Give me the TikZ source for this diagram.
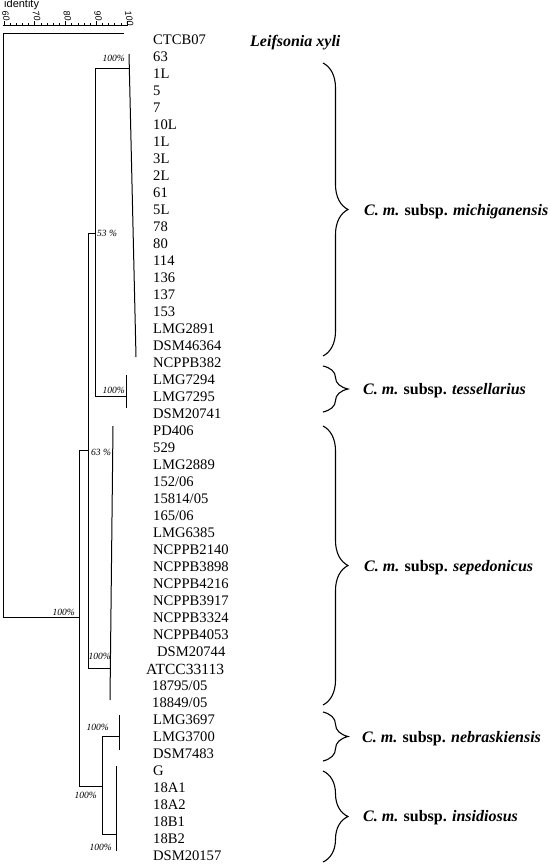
\documentclass[tikz,border=0pt]{standalone}
\usepackage{fontspec}
\setmainfont{Liberation Serif}
\newfontfamily\labsans{Liberation Sans}
\usetikzlibrary{decorations.pathreplacing}
\begin{document}
\begin{tikzpicture}[x=1pt,y=-1pt,
  leaf/.style={anchor=base west,inner sep=0pt,font=\fontsize{14.6}{14.6}\selectfont},
  grp/.style={anchor=base west,inner sep=0pt,font=\fontsize{16}{16}\selectfont\bfseries},
  pct/.style={inner sep=0pt,font=\fontsize{9.5}{9.5}\selectfont\itshape},
  tree/.style={line width=1pt},
  br/.style={decorate,decoration={brace,amplitude=25pt},line width=1.1pt},
  scl/.style={inner sep=0pt,font=\labsans\fontsize{9}{9}\selectfont\itshape}]
\useasboundingbox (0,0) rectangle (558,864);
% scale
\node[inner sep=0pt,anchor=north west,font=\labsans\fontsize{11}{11}\selectfont] (idt) at (4,-1) {identity};
\coordinate (s0) at (3,25);
\coordinate (s1) at (128,25);
\draw[line width=0.7pt] (s0) -- (s1);
\foreach \v in {60,62,...,100}{
  \draw[line width=0.6pt] ({4+(\v-60)*3.075},25) -- ++(0,-2);
}
\foreach \v in {60,70,80,90,100}{
  \draw[line width=0.7pt] ({4+(\v-60)*3.075},25) -- ++(0,-3.5);
  \node[scl,rotate=-80,anchor=west] (sc\v) at ({5+(\v-60)*3.075},10.5) {\v};
}
% leaves
\foreach \t [count=\i from 0] in {CTCB07,63,1L,5,7,10L,1L,3L,2L,61,5L,78,80,114,136,137,153,LMG2891,DSM46364,NCPPB382,LMG7294,LMG7295,DSM20741,PD406,529,LMG2889,152/06,15814/05,165/06,LMG6385,NCPPB2140,NCPPB3898,NCPPB4216,NCPPB3917,NCPPB3324,NCPPB4053}{
  \node[leaf] (l\i) at (153,{44.8+17*\i}) {\t};
}
\node[leaf] (l36) at (157,{44.8+17*36}) {DSM20744};
\node[leaf,font=\fontsize{15.5}{15.5}\selectfont] (l37) at (146,{45+17*37}) {ATCC33113};
\node[leaf] (l38) at (152,{44.8+17*38}) {18795/05};
\node[leaf] (l39) at (152,{44.8+17*39}) {18849/05};
\foreach \t [count=\i from 40] in {LMG3697,LMG3700,DSM7483,G,18A1,18A2,18B1,18B2,DSM20157}{
  \node[leaf] (l\i) at (153,{44.8+17*\i}) {\t};
}
% tree coordinates
\coordinate (rt) at (3,34);
\coordinate (rb) at (3,617);
\coordinate (ct) at (124,34);
\coordinate (a) at (79,617);
\coordinate (at) at (79,450);
\coordinate (ab) at (79,786);
\coordinate (b) at (88,450);
\coordinate (bt) at (88,233);
\coordinate (bb) at (88,668);
\coordinate (c) at (95,233);
\coordinate (ct2) at (95,69);
\coordinate (cb) at (95,396);
\coordinate (m) at (129.3,69);
\coordinate (mt) at (129,54);
\coordinate (mb) at (136,357);
\coordinate (tm) at (126,396);
\coordinate (tt) at (126,375);
\coordinate (tb) at (126,408);
\coordinate (sm) at (110.4,668);
\coordinate (st) at (113,426);
\coordinate (sb) at (110,700);
\coordinate (d) at (102,786);
\coordinate (dt) at (102,736);
\coordinate (db) at (102,834);
\coordinate (nm) at (119,736);
\coordinate (nt) at (119,715);
\coordinate (nb) at (119,750);
\coordinate (im) at (116,834);
\coordinate (it) at (116,766);
\coordinate (ib) at (116,851);
\draw[tree] (ct) -- (rt) -- (rb) -- (a);
\draw[tree] (b) -- (at) -- (ab) -- (d);
\draw[tree] (c) -- (bt) -- (bb) -- (sm);
\draw[tree] (m) -- (ct2) -- (cb) -- (tm);
\draw[tree] (mt) -- (mb);
\draw[tree] (tt) -- (tb);
\draw[tree] (st) -- (sb);
\draw[tree] (nm) -- (dt) -- (db) -- (im);
\draw[tree] (nt) -- (nb);
\draw[tree] (it) -- (ib);
% bootstrap values
\node[pct,anchor=east] (p1) at (125,58) {100\%};
\node[pct,anchor=west] (p2) at (97,233) {53 \%};
\node[pct,anchor=east] (p3) at (125,390) {100\%};
\node[pct,anchor=west] (p4) at (91,452) {63 \%};
\node[pct,anchor=east] (p5) at (75,612) {100\%};
\node[pct,anchor=east] (p6) at (111,656) {100\%};
\node[pct,anchor=east] (p7) at (109,727) {100\%};
\node[pct,anchor=east] (p8) at (97,795) {100\%};
\node[pct,anchor=east] (p9) at (112,847) {100\%};
% groups
\node[grp] (lx) at (250,47) {\itshape Leifsonia xyli};
\coordinate (b1t) at (323,63); \coordinate (b1b) at (323,356);
\coordinate (b2t) at (323,366); \coordinate (b2b) at (323,412);
\coordinate (b3t) at (323,426); \coordinate (b3b) at (323,705);
\coordinate (b4t) at (323,712); \coordinate (b4b) at (323,761);
\coordinate (b5t) at (323,771); \coordinate (b5b) at (323,862);
\draw[br] (b1t) -- (b1b);
\draw[br] (b2t) -- (b2b);
\draw[br] (b3t) -- (b3b);
\draw[br] (b4t) -- (b4b);
\draw[br] (b5t) -- (b5b);
\node[grp] (g1) at (364,215) {\itshape C. m. \upshape subsp. \itshape michiganensis};
\node[grp] (g2) at (363,394) {\itshape C. m. \upshape subsp. \itshape tessellarius};
\node[grp] (g3) at (364,571) {\itshape C. m. \upshape subsp. \itshape sepedonicus};
\node[grp] (g4) at (362,742) {\itshape C. m. \upshape subsp. \itshape nebraskiensis};
\node[grp] (g5) at (363,821) {\itshape C. m. \upshape subsp. \itshape insidiosus};
\end{tikzpicture}
\end{document}
